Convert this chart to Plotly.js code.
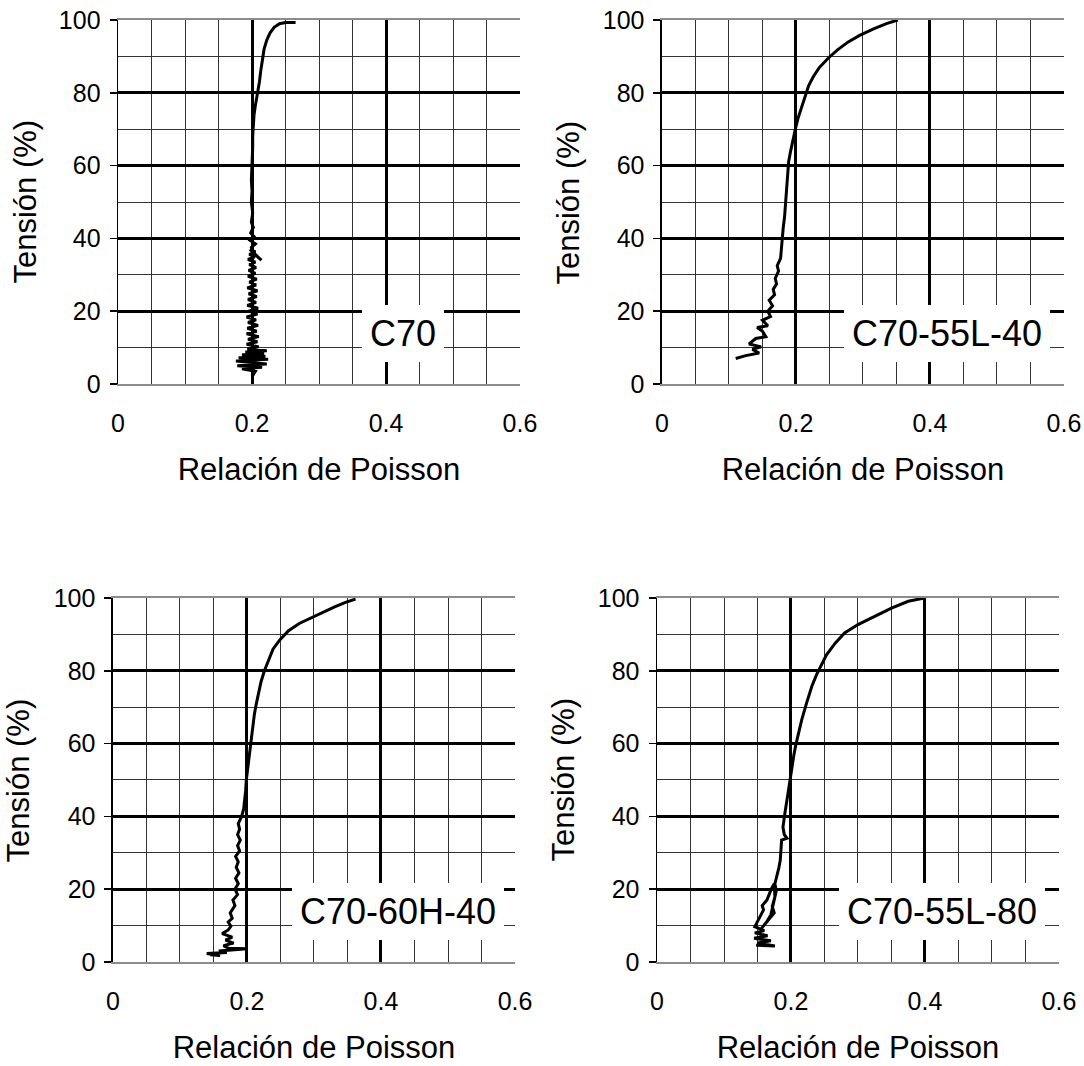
<!DOCTYPE html>
<html>
<head>
<meta charset="utf-8">
<script src="https://cdn.plot.ly/plotly-3.0.1.min.js"></script>
<style>
  html, body { margin: 0; padding: 0; background: #ffffff; }
  #chart { width: 1084px; height: 1066px; }
</style>
</head>
<body>
<div id="chart"></div>
<script>
// ---------- Data ----------
const xTickVals = [0, 0.2, 0.4, 0.6];
const xTickText = ["0", "0.2", "0.4", "0.6"];
const yTickVals = [0, 20, 40, 60, 80, 100];
const yTickText = ["0", "20", "40", "60", "80", "100"];

const panelNames = ["C70", "C70-55L-40", "C70-60H-40", "C70-55L-80"];
const xTitle = "Relación de Poisson";
const yTitle = "Tensión (%)";

// C70
const c70_poisson = [0.200, 0.205, 0.185, 0.215, 0.178, 0.222, 0.176, 0.224, 0.180, 0.220, 0.185, 0.218, 0.190, 0.222, 0.193, 0.210, 0.192, 0.208, 0.194, 0.210, 0.192, 0.207, 0.193, 0.209, 0.194, 0.206, 0.192, 0.208, 0.195, 0.209, 0.193, 0.206, 0.194, 0.207, 0.195, 0.208, 0.193, 0.206, 0.196, 0.207, 0.194, 0.205, 0.195, 0.206, 0.196, 0.205, 0.194, 0.204, 0.196, 0.205, 0.197, 0.214, 0.203, 0.199, 0.205, 0.197, 0.203, 0.198, 0.202, 0.199, 0.201, 0.199, 0.200, 0.199, 0.200, 0.200, 0.201, 0.201, 0.202, 0.203, 0.205, 0.207, 0.209, 0.211, 0.213, 0.215, 0.218, 0.222, 0.227, 0.233, 0.241, 0.250, 0.258, 0.265];
const c70_tension = [2.0, 3.5, 4.2, 4.6, 5.0, 5.5, 6.3, 6.8, 7.2, 7.6, 8.0, 8.4, 8.8, 9.1, 9.6, 10.2, 10.9, 11.6, 12.3, 13.0, 13.8, 14.5, 15.3, 16.1, 16.9, 17.6, 18.4, 19.2, 20.0, 20.8, 21.6, 22.4, 23.2, 24.0, 24.8, 25.6, 26.4, 27.2, 28.0, 28.8, 29.6, 30.4, 31.2, 32.0, 32.8, 33.5, 34.2, 34.9, 35.6, 36.3, 37.0, 34.0, 35.8, 37.5, 38.5, 39.5, 40.5, 41.5, 43, 44.5, 47, 50, 53, 56, 59, 62, 65, 68, 71, 74, 76.5, 78.5, 80.5, 83, 86, 89, 92, 94.5, 96.5, 98, 99, 99.3, 99.3, 99.3];

// C70-55L-40
const c7055l40_poisson = [0.110, 0.125, 0.145, 0.135, 0.148, 0.130, 0.140, 0.155, 0.150, 0.142, 0.158, 0.150, 0.162, 0.158, 0.165, 0.160, 0.168, 0.166, 0.171, 0.169, 0.174, 0.172, 0.177, 0.178, 0.180, 0.181, 0.183, 0.184, 0.185, 0.186, 0.187, 0.189, 0.192, 0.195, 0.199, 0.203, 0.208, 0.213, 0.219, 0.226, 0.235, 0.248, 0.262, 0.278, 0.295, 0.315, 0.335, 0.352];
const c7055l40_tension = [7.0, 7.8, 8.5, 9.5, 10.2, 11.0, 12.5, 13.0, 14.5, 15.5, 16.0, 17.5, 18.5, 20, 21.5, 23, 24.5, 26, 27.5, 29, 31, 32.5, 34.5, 37, 40, 43, 46, 49, 52, 55, 58, 61, 64, 67, 70, 73, 76, 79, 82, 84.5, 87, 89.5, 91.8, 94, 95.8, 97.5, 99, 100];

// C70-60H-40
const c7060h40_poisson = [0.145, 0.160, 0.140, 0.170, 0.158, 0.200, 0.172, 0.165, 0.180, 0.168, 0.178, 0.163, 0.172, 0.176, 0.172, 0.178, 0.175, 0.182, 0.179, 0.186, 0.182, 0.187, 0.183, 0.188, 0.184, 0.187, 0.183, 0.189, 0.186, 0.190, 0.186, 0.189, 0.187, 0.192, 0.195, 0.197, 0.198, 0.199, 0.201, 0.202, 0.204, 0.206, 0.208, 0.211, 0.214, 0.217, 0.221, 0.226, 0.232, 0.239, 0.249, 0.262, 0.278, 0.295, 0.312, 0.330, 0.347, 0.362];
const c7060h40_tension = [2.0, 1.8, 2.3, 2.6, 3.0, 3.6, 3.8, 4.5, 5.2, 6.0, 6.8, 7.8, 8.8, 9.8, 11.0, 12.0, 13.5, 15.5, 17, 18.5, 20, 21.5, 23, 24.5, 26, 27.5, 29, 30.5, 32, 33.5, 35, 36.5, 38, 40, 42, 44.5, 47, 50, 53, 56, 59, 62, 65, 68, 71, 74, 77, 80, 83, 86, 88.5, 91, 93, 94.5, 96, 97.5, 98.8, 99.7];

// C70-55L-80
const c7055l80_poisson = [0.148, 0.176, 0.150, 0.170, 0.145, 0.165, 0.146, 0.160, 0.146, 0.152, 0.159, 0.157, 0.164, 0.171, 0.175, 0.176, 0.172, 0.175, 0.166, 0.160, 0.154, 0.163, 0.170, 0.174, 0.178, 0.176, 0.179, 0.182, 0.184, 0.185, 0.186, 0.194, 0.190, 0.188, 0.189, 0.191, 0.194, 0.196, 0.198, 0.201, 0.204, 0.207, 0.211, 0.216, 0.223, 0.231, 0.238, 0.246, 0.253, 0.266, 0.280, 0.300, 0.325, 0.350, 0.375, 0.399];
const c7055l80_tension = [4.6, 4.4, 5.2, 5.8, 6.5, 7.2, 8.0, 8.6, 9.7, 12.0, 14.3, 15.5, 17.0, 20.2, 21.5, 17.9, 15.2, 13.5, 11.5, 10.2, 8.8, 10.8, 13.0, 16.0, 19.5, 21.5, 23.4, 26, 28, 31, 33.5, 34, 35, 37, 39, 41, 44.5, 47, 50, 53, 56.5, 59.5, 62.8, 66.5, 71, 75.7, 78.9, 82, 84.4, 87.6, 90.4, 92.7, 95, 97.2, 99.1, 100];

// ---------- Layout geometry ----------
const xDomains = [[0.1089, 0.4797], [0.6107, 0.9815], [0.1042, 0.4751], [0.6061, 0.9769]];
const yDomains = [[0.6398, 0.9812], [0.6398, 0.9812], [0.0976, 0.4390], [0.0976, 0.4390]];

const seriesX = [c70_poisson, c7055l40_poisson, c7060h40_poisson, c7055l80_poisson];
const seriesY = [c70_tension, c7055l40_tension, c7060h40_tension, c7055l80_tension];

const FONT = "Liberation Sans, Arial, Helvetica, sans-serif";

const traces = [];
const layout = {
  width: 1084, height: 1066,
  margin: {l: 0, r: 0, t: 0, b: 0},
  paper_bgcolor: "#ffffff",
  plot_bgcolor: "#ffffff",
  showlegend: false,
  font: {family: FONT, color: "#000000"},
  annotations: []
};

for (let i = 0; i < 4; i++) {
  const suffix = i === 0 ? "" : String(i + 1);
  traces.push({
    type: "scatter", mode: "lines",
    x: seriesX[i], y: seriesY[i],
    xaxis: "x" + suffix, yaxis: "y" + suffix,
    line: {color: "#000000", width: 3},
    hoverinfo: "skip"
  });
  layout["xaxis" + suffix] = {
    domain: xDomains[i], anchor: "y" + suffix,
    range: [0, 0.6], fixedrange: true,
    tickvals: xTickVals, ticktext: xTickText,
    ticks: "", ticklabelstandoff: 16,
    tickfont: {size: 25, family: FONT, color: "#000"},
    showgrid: true, gridcolor: "#000000", gridwidth: 3,
    minor: {dtick: 0.05, tick0: 0, showgrid: true, gridcolor: "#333333", gridwidth: 1},
    zeroline: false,
    showline: true, linecolor: "#8c8c8c", linewidth: 2, mirror: true,
    title: {text: xTitle, font: {size: 31, family: FONT, color: "#000"}, standoff: 22}
  };
  layout["yaxis" + suffix] = {
    domain: yDomains[i], anchor: "x" + suffix,
    range: [0, 100], fixedrange: true,
    tickvals: yTickVals, ticktext: yTickText,
    ticks: "outside", ticklen: 7, tickwidth: 1.5, tickcolor: "#000",
    ticklabelstandoff: 4,
    tickfont: {size: 25, family: FONT, color: "#000"},
    showgrid: true, gridcolor: "#000000", gridwidth: 3,
    minor: {dtick: 10, tick0: 0, showgrid: true, gridcolor: "#333333", gridwidth: 1},
    zeroline: false,
    showline: true, linecolor: "#000000", linewidth: 1.5, mirror: false
  };
  // Y-axis title as rotated text next to the axis
  layout.annotations.push({
    xref: "x" + suffix + " domain", yref: "y" + suffix + " domain",
    x: 0, y: 0.5, xanchor: "right", yanchor: "middle",
    xshift: -74,
    text: yTitle, textangle: -90, showarrow: false,
    font: {size: 31, family: FONT, color: "#000"}
  });
  // Specimen label box
  layout.annotations.push({
    xref: "x" + suffix, yref: "y" + suffix,
    x: 0.425, y: 14, xanchor: "center", yanchor: "middle",
    text: panelNames[i], showarrow: false,
    bgcolor: "#ffffff", borderpad: 8, borderwidth: 0,
    font: {size: 36, family: FONT, color: "#000"}
  });
}

Plotly.newPlot("chart", traces, layout, {staticPlot: true, displayModeBar: false});
</script>
</body>
</html>
